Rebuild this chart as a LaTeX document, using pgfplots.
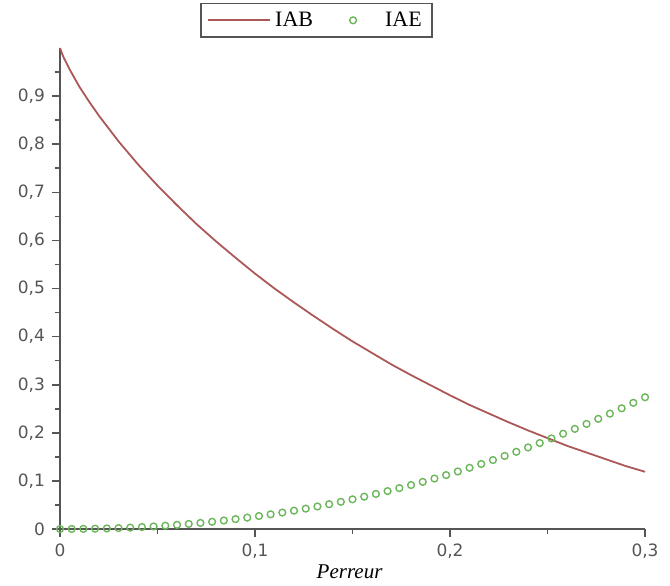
\documentclass[border=0pt]{standalone}
\usepackage{pgfplots}
\pgfplotsset{compat=1.18}
\usepackage{fontspec}
\setmainfont{Liberation Serif}
\newfontfamily\tickfont{DejaVu Sans}
\definecolor{iabred}{RGB}{172,88,88}
\definecolor{iaegreen}{RGB}{108,182,92}
\definecolor{axgray}{RGB}{85,85,85}
\pgfplotsset{
  longline/.style={legend image code/.code={\draw[##1] (0cm,0cm) -- (1.1cm,0cm);}},
  markleg/.style={legend image code/.code={\node[inner sep=0pt, minimum width=20pt, minimum height=1pt] at (10pt,0pt) {}; \draw[##1, only marks] plot coordinates {(6pt,0pt)};}},
}

\begin{document}
\begin{tikzpicture}
\begin{axis}[
scale only axis,
width=292.5pt,
height=240.5pt,
xmin=0, xmax=0.3,
ymin=0, ymax=1,
clip=false,
axis lines=left,
axis line style={-, axgray, line width=1pt},
xtick={0,0.1,0.2,0.3},
minor xtick={0.05,0.15,0.25},
ytick={0,0.1,0.2,0.3,0.4,0.5,0.6,0.7,0.8,0.9},
minor ytick={0.05,0.15,0.25,0.35,0.45,0.55,0.65,0.75,0.85,0.95},
tick align=outside,
major tick length=4pt,
minor tick length=2.5pt,
tick style={axgray, line width=0.8pt},
every tick label/.append style={font=\tickfont\fontsize{8.5}{10}\selectfont, text=axgray},
/pgf/number format/use comma,
/pgf/number format/assume math mode=true,
xlabel={\textit{Perreur}},
xlabel style={font=\fontsize{10.5}{12}\selectfont, at={(rel axis cs:0.495,0)}, anchor=center, yshift=-21.5pt},
legend style={at={(rel axis cs:0.438,1.021)}, anchor=south, legend columns=2,
  draw=axgray, line width=0.8pt, font=\fontsize{11}{13}\selectfont,
  /tikz/every even column/.append style={column sep=12pt}},
]
% IAB
\addplot[iabred, line width=0.9pt, longline] coordinates {
(0,1.0) (0.001,0.989) (0.002,0.979) (0.005,0.955) (0.01,0.919) (0.015,0.888)
(0.02,0.859) (0.03,0.806) (0.04,0.758) (0.05,0.714) (0.06,0.673) (0.07,0.634)
(0.08,0.598) (0.09,0.564) (0.10,0.531) (0.11,0.500) (0.12,0.471) (0.13,0.443)
(0.14,0.416) (0.15,0.390) (0.16,0.366) (0.17,0.342) (0.18,0.320) (0.19,0.299)
(0.20,0.278) (0.21,0.258) (0.22,0.240) (0.23,0.222) (0.24,0.205) (0.25,0.189)
(0.26,0.173) (0.27,0.159) (0.28,0.145) (0.29,0.131) (0.30,0.119)
};
\addlegendentry{IAB}
% IAE
\addplot[only marks, mark=o, mark size=1.7pt, iaegreen, mark options={line width=0.7pt}, markleg] coordinates {
(0,0) (0.006,0.0001) (0.012,0.0003) (0.018,0.0007) (0.024,0.0012) (0.030,0.0019)
(0.036,0.0029) (0.042,0.0040) (0.048,0.0053) (0.054,0.0069) (0.060,0.0086)
(0.066,0.0106) (0.072,0.0127) (0.078,0.0151) (0.084,0.0177) (0.090,0.0206)
(0.096,0.0237) (0.102,0.0270) (0.108,0.0305) (0.114,0.0342) (0.120,0.0382)
(0.126,0.0424) (0.132,0.0469) (0.138,0.0516) (0.144,0.0566) (0.150,0.0617)
(0.156,0.0672) (0.162,0.0729) (0.168,0.0788) (0.174,0.0850) (0.180,0.0914)
(0.186,0.0980) (0.192,0.1049) (0.198,0.1121) (0.204,0.1196) (0.210,0.1273)
(0.216,0.1352) (0.222,0.1434) (0.228,0.1519) (0.234,0.1606) (0.240,0.1696)
(0.246,0.1788) (0.252,0.1883) (0.258,0.1981) (0.264,0.2082) (0.270,0.2185)
(0.276,0.2290) (0.282,0.2399) (0.288,0.2510) (0.294,0.2624) (0.300,0.2740)
};
\addlegendentry{IAE}
\coordinate (bbll) at (rel axis cs:-0.1026,-0.1164);
\coordinate (bbur) at (rel axis cs:1.0427,1.0998);
\end{axis}
\pgfresetboundingbox
\path[use as bounding box] (bbll) rectangle (bbur);
\end{tikzpicture}
\end{document}
